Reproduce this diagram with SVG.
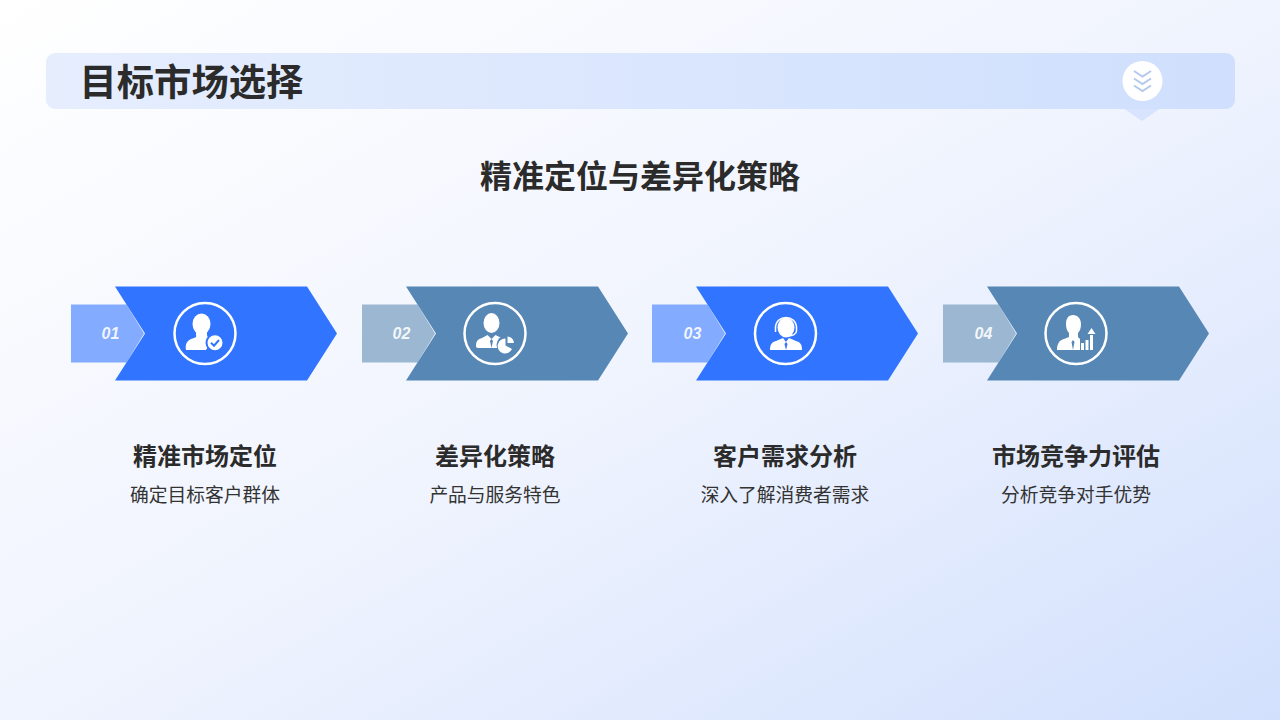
<svg xmlns="http://www.w3.org/2000/svg" width="1280" height="720" viewBox="0 0 1280 720">
<defs>
<linearGradient id="bg" x1="0" y1="0" x2="1" y2="1"><stop offset="0" stop-color="#ffffff"/><stop offset="0.5" stop-color="#f0f4fe"/><stop offset="1" stop-color="#d2e0fd"/></linearGradient>
<linearGradient id="bar" x1="0" y1="0" x2="1" y2="0"><stop offset="0" stop-color="#e6eefe"/><stop offset="1" stop-color="#cfdffd"/></linearGradient>
<path id="tail" d="M0 0H55.500L73 29L55.500 58H0Z"/>
<path id="arrow" d="M0 0H192L222 47L192 94H0L30 47Z"/>
</defs>
<style>
text{font-family:"Noto Sans CJK SC","Noto Sans",sans-serif}
.h{font-size:24px;font-weight:700;fill:#2b2b2b;text-anchor:middle}
.s{font-size:18.750px;fill:#333;text-anchor:middle}
.n{font-family:"Liberation Sans",sans-serif;font-size:16px;font-weight:700;font-style:italic;fill:#fff;text-anchor:middle;fill-opacity:.9}
.ring{fill:none;stroke:#fff;stroke-width:2.500}
.w{fill:#fff}
.blue .a{fill:#3074ff}.blue .t{fill:#83abff}
.steel .a{fill:#5787b4}.steel .t{fill:#9bb7d2}
</style>
<rect width="1280" height="720" fill="url(#bg)"/>
<g id="header">
<path d="M1123 108H1161L1142 121Z" fill="#d8e4fe"/>
<rect x="46" y="53" width="1189" height="56" rx="9" fill="url(#bar)"/>
<circle cx="1142.500" cy="81" r="20" fill="#fff"/>
<path d="M1134 71L1142.500 76.500L1151 71M1134 78.500L1142.500 84L1151 78.500M1134 85.500L1142.500 91L1151 85.500" fill="none" stroke="#b4c8ee" stroke-width="2"/>
<text x="79.500" y="96" font-size="37.300" font-weight="700" fill="#2b2b2b">目标市场选择</text>
</g>
<text id="subtitle" x="640" y="188" font-size="32" font-weight="700" fill="#2b2b2b" text-anchor="middle">精准定位与差异化策略</text>
<g id="connectors"/>
<g id="step1" class="blue">
<use href="#tail" x="71" y="304.500" class="t"/><use href="#arrow" x="115" y="286.500" class="a"/>
<text class="n" x="110.500" y="339">01</text>
<circle class="ring" cx="205" cy="333.500" r="30.500"/>
<ellipse class="w" cx="201.500" cy="324" rx="9" ry="10.500"/>
<path class="w" d="M196 331h11v4c0 2 2 3 4 4l1 1l-6 10H186c-1-6 1-9 5-11c4-1 6-2 5-4Z"/>
<circle cx="215" cy="342.700" r="9.500" fill="#3074ff"/>
<circle class="w" cx="215" cy="342.700" r="7.500"/>
<path d="M211 342.700L214 345.700L219 340" fill="none" stroke="#3074ff" stroke-width="2"/>
<text class="h" x="205" y="465">精准市场定位</text>
<text class="s" x="205" y="502">确定目标客户群体</text>
</g>
<g id="step2" class="steel">
<use href="#tail" x="362" y="304.500" class="t"/><use href="#arrow" x="406" y="286.500" class="a"/>
<text class="n" x="401.500" y="339">02</text>
<circle class="ring" cx="495" cy="333.500" r="30.500"/>
<ellipse class="w" cx="491.500" cy="323" rx="8" ry="10"/>
<path class="w" d="M476 346c0-5 2-7 6-8l5.500-3l4 4l4-4l6 3c3 1 5 2 6 4v6h-25c-5 0-6.500 0-6.500-2Z"/>
<path d="M491.500 339l-1.500 2l1.500 7l1.500-7Z" fill="#5787b4"/>
<circle cx="506" cy="345" r="9.500" fill="#5787b4"/>
<path class="w" d="M505.500 338.500V345.500L512 349A7.500 7.500 0 1 1 505.500 338.500Z"/>
<path class="w" d="M507.500 336.500A7.500 7.500 0 0 1 514 343L507.500 343Z"/>
<text class="h" x="495" y="465">差异化策略</text>
<text class="s" x="495" y="502">产品与服务特色</text>
</g>
<g id="step3" class="blue">
<use href="#tail" x="652" y="304.500" class="t"/><use href="#arrow" x="696" y="286.500" class="a"/>
<text class="n" x="692.500" y="339">03</text>
<circle class="ring" cx="785.500" cy="333.500" r="30.500"/>
<ellipse class="w" cx="786" cy="327.500" rx="8.500" ry="10"/>
<path d="M775.500 328c0-14 21-14 21 0M775.500 326v6M796.500 326v5c0 3-4 5-8 5" fill="none" stroke="#fff" stroke-width="1.500"/>
<path class="w" d="M770 350c0-6 2-8 6-9l7-3l3 4l3-4l7 3c4 1 6 3 6 9Z"/>
<path d="M786 342l-1.500 2l1.500 6l1.500-6Z" fill="#3074ff"/>
<text class="h" x="785" y="465">客户需求分析</text>
<text class="s" x="785" y="502">深入了解消费者需求</text>
</g>
<g id="step4" class="steel">
<use href="#tail" x="943" y="304.500" class="t"/><use href="#arrow" x="987" y="286.500" class="a"/>
<text class="n" x="983.500" y="339">04</text>
<circle class="ring" cx="1076" cy="333.500" r="30.500"/>
<path class="w" d="M1073 315c5 0 8 4 8 9c0 4-1 7-3 9v4l2 2v11h-23c0-7 3-10 7-11l5-2v-4c-2-2-3-5-3-9c0-5 2-9 7-9Z"/>
<path d="M1073 340l-1.500 2l1.500 8l1.500-8Z" fill="#5787b4"/>
<path class="w" d="M1081 343h3v7h-3ZM1085.500 340h3v10h-3ZM1090 335h3v15h-3ZM1091.500 328l4 6h-8Z"/>
<text class="h" x="1076" y="465">市场竞争力评估</text>
<text class="s" x="1076" y="502">分析竞争对手优势</text>
</g>
</svg>
